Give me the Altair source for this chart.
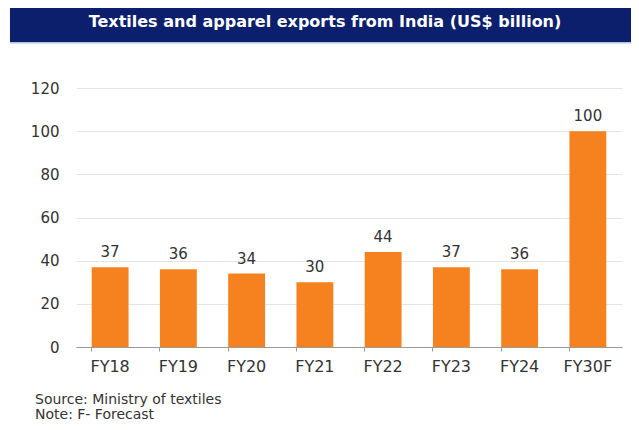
import altair as alt
import pandas as pd

years = ["FY18", "FY19", "FY20", "FY21", "FY22", "FY23", "FY24", "FY30F"]
exports = [37, 36, 34, 30, 44, 37, 36, 100]
y_ticks = [0, 20, 40, 60, 80, 100, 120]
title_text = "Textiles and apparel exports from India (US$ billion)"
notes = ["Source: Ministry of textiles", "Note: F- Forecast"]

FONT = "DejaVu Sans"
df = pd.DataFrame({"year": years, "value": exports})
one = pd.DataFrame({"k": [0]})

x_enc = alt.X("year:N", sort=years, title=None,
              scale=alt.Scale(paddingInner=0.46, paddingOuter=0.23),
              axis=alt.Axis(labelAngle=0, labelFont=FONT, labelFontSize=16,
                            labelColor="#333333", domainColor="#9a9a9a",
                            tickColor="#9a9a9a", tickSize=4, labelPadding=7,
                            bandPosition=0, grid=False))
y_enc = alt.Y("value:Q", title=None,
              scale=alt.Scale(domain=[0, 120], nice=False),
              axis=alt.Axis(values=y_ticks, labelFont=FONT, labelFontSize=15,
                            labelColor="#333333", ticks=False, domain=False,
                            labelPadding=17, grid=True, gridColor="#e4e4e4",
                            gridWidth=1))

bars = alt.Chart(df).mark_bar(color="#F5821F").encode(x=x_enc, y=y_enc)
labels = alt.Chart(df).mark_text(font=FONT, fontSize=15, color="#333333",
                                 baseline="alphabetic", dy=-10).encode(
    x=alt.X("year:N", sort=years), y="value:Q", text="value:Q")

banner = alt.Chart(one).mark_rect(color="#0C1F6C").encode(
    x=alt.value(-66), x2=alt.value(560), y=alt.value(-80), y2=alt.value(-46))
banner_line = alt.Chart(one).mark_rect(color="#a9c6dd").encode(
    x=alt.value(-66), x2=alt.value(560), y=alt.value(-46), y2=alt.value(-44.5))
title = alt.Chart(one).mark_text(font=FONT, fontSize=16, fontWeight="bold",
                                 color="white", align="center",
                                 baseline="middle").encode(
    x=alt.value(249), y=alt.value(-66), text=alt.value(title_text))
src = alt.Chart(one).mark_text(font=FONT, fontSize=14, color="#333333",
                               align="left", baseline="alphabetic").encode(
    x=alt.value(-41), y=alt.value(316), text=alt.value(notes[0]))
note = alt.Chart(one).mark_text(font=FONT, fontSize=14, color="#333333",
                                align="left", baseline="alphabetic").encode(
    x=alt.value(-41), y=alt.value(330.5), text=alt.value(notes[1]))

chart = alt.layer(bars, labels, banner, banner_line, title, src, note).properties(
    width=546, height=259,
    autosize=alt.AutoSizeParams(type="none"),
    padding={"left": 68, "top": 80, "right": 9, "bottom": 75},
    background="white",
).configure_view(stroke=None)

chart.save("out.html", embed_options={"renderer": "svg", "actions": False})
